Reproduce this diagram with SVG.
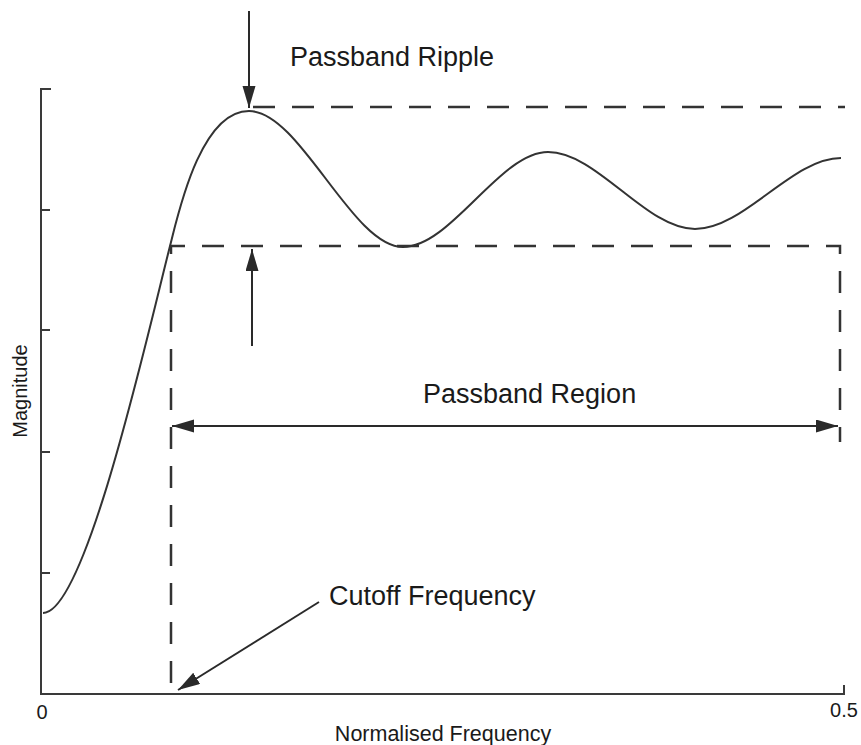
<svg xmlns="http://www.w3.org/2000/svg" width="861" height="745" viewBox="0 0 861 745">
  <style>
    .axis { fill: none; stroke: #3a3a3a; stroke-width: 2; }
    .curve { fill: none; stroke: #333; stroke-width: 2; }
    .dash { fill: none; stroke: #333; stroke-width: 2.5; stroke-dasharray: 22 17; }
    .arrow { fill: none; stroke: #2a2a2a; stroke-width: 2; }
    .label { font-family: "Liberation Sans", Arial, sans-serif; fill: #1a1a1a; }
    .big { font-size: 27px; }
    .mid { font-size: 21.5px; }
    .tick { font-size: 20px; }
  </style>
  <defs>
    <marker id="head" markerUnits="userSpaceOnUse" markerWidth="24" markerHeight="14" refX="22" refY="6.5" orient="auto-start-reverse">
      <path d="M0,0 L22,6.5 L0,13 z" fill="#2a2a2a"/>
    </marker>
  </defs>

  <rect width="861" height="745" fill="#fff"/>

  <!-- axes with tick marks -->
  <g id="axes">
    <path class="axis" d="M51,89 H41 V694 H844 V685"/>
    <path class="axis" d="M41,210 H50 M41,330 H50 M41,452 H50 M41,573 H50"/>
  </g>

  <!-- magnitude response -->
  <g id="response">
    <path class="curve" d="M43,613 C85,613 145,345 170,246 C178,215 200,111 249,111 C300,111 352,247 403,247 C451,247 500,152 548,152 C597,152 646,229 695,229 C744,229 792,158 841,158"/>
  </g>

  <!-- ripple bounds and cutoff guides -->
  <g id="guides">
    <path class="dash" d="M253,107 H845"/>
    <path class="dash" style="stroke-dashoffset:28" d="M171,694 V246 H840 V442"/>
  </g>

  <!-- annotation arrows -->
  <g id="connectors">
    <line class="arrow" x1="249" y1="11" x2="249" y2="108" marker-end="url(#head)"/>
    <line class="arrow" x1="252" y1="346" x2="252" y2="249" marker-end="url(#head)"/>
    <line class="arrow" x1="172" y1="426" x2="838" y2="426" marker-start="url(#head)" marker-end="url(#head)"/>
    <line class="arrow" x1="319" y1="602" x2="178" y2="690" marker-end="url(#head)"/>
  </g>

  <g id="label-ripple">
    <text class="label big" x="290" y="66">Passband Ripple</text>
  </g>
  <g id="label-region">
    <text class="label big" x="423" y="403">Passband Region</text>
  </g>
  <g id="label-cutoff">
    <text class="label big" x="329" y="605">Cutoff Frequency</text>
  </g>
  <g id="axis-labels">
    <text class="label mid" x="443" y="741" text-anchor="middle">Normalised Frequency</text>
    <text class="label tick" transform="translate(27,391) rotate(-90)" text-anchor="middle">Magnitude</text>
    <text class="label tick" x="42" y="719" text-anchor="middle">0</text>
    <text class="label tick" x="844" y="717" text-anchor="middle">0.5</text>
  </g>
</svg>
